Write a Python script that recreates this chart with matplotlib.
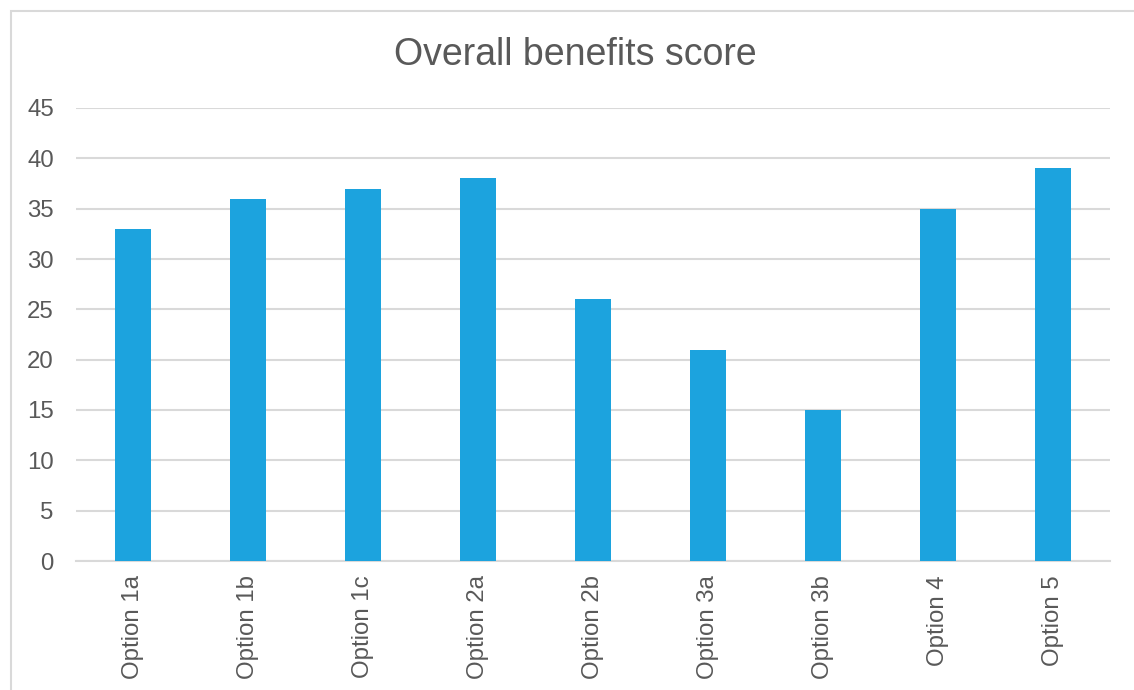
import matplotlib as mpl
mpl.use('Agg')
import matplotlib.pyplot as plt
import numpy as np

# Scores per option
options = ['Option 1a', 'Option 1b', 'Option 1c', 'Option 2a', 'Option 2b',
           'Option 3a', 'Option 3b', 'Option 4', 'Option 5']
scores = [33, 36, 37, 38, 26, 21, 15, 35, 39]
yticks = [0, 5, 10, 15, 20, 25, 30, 35, 40, 45]

text_col = '#595959'
grid_col = '#D9D9D9'
bar_col = '#1CA3DE'

plt.rcParams['font.family'] = ['Liberation Sans', 'DejaVu Sans']

fig = plt.figure(figsize=(11.34, 6.9), dpi=100)
ax = fig.add_axes([76/1134, 1-561/690, (1110-76)/1134, (561-108)/690])

# chart frame, open on the right and bottom
frame = plt.Rectangle((11/1134, -0.1), 1.2, 1 - 11/690 + 0.1, transform=fig.transFigure,
                      fill=False, edgecolor=grid_col, linewidth=1.5)
fig.patches.append(frame)

x = np.arange(len(options))
ax.bar(x, scores, width=0.313, color=bar_col, zorder=3)

ax.set_xlim(-0.5, len(options) - 0.5)
ax.set_ylim(0, 45)
ax.set_yticks(yticks)
ax.set_xticks(x)
ax.set_xticklabels(options, rotation=90)
ax.grid(axis='y', color=grid_col, linewidth=1.5, zorder=0)
for s in ['top', 'right', 'left']:
    ax.spines[s].set_visible(False)
ax.spines['bottom'].set_color(grid_col)
ax.spines['bottom'].set_linewidth(1.5)
ax.tick_params(axis='both', length=0, labelsize=17.3, colors=text_col)
ax.tick_params(axis='y', pad=16)
ax.tick_params(axis='x', pad=10)

fig.text(575/1134, 1-55/690, 'Overall benefits score', ha='center', va='center',
         fontsize=27, color=text_col)

plt.savefig('out.png', dpi=100)
